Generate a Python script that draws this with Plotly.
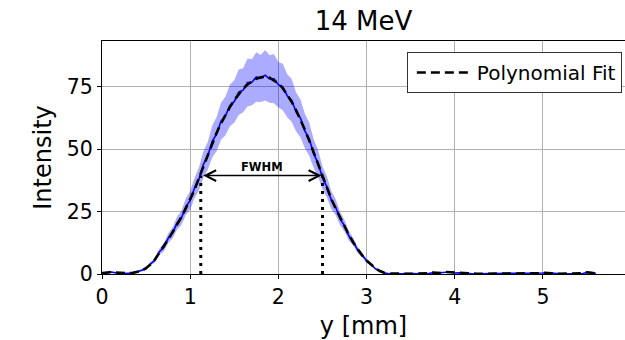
import plotly.graph_objects as go

y_mm = [0.00, 0.05, 0.10, 0.15, 0.20, 0.25, 0.30, 0.35, 0.40, 0.45,
        0.50, 0.55, 0.60, 0.65, 0.70, 0.75, 0.80, 0.85, 0.90, 0.95,
        1.00, 1.05, 1.10, 1.15, 1.20, 1.25, 1.30, 1.35, 1.40, 1.45,
        1.50, 1.55, 1.60, 1.65, 1.70, 1.75, 1.80, 1.85, 1.90, 1.95,
        2.00, 2.05, 2.10, 2.15, 2.20, 2.25, 2.30, 2.35, 2.40, 2.45,
        2.50, 2.55, 2.60, 2.65, 2.70, 2.75, 2.80, 2.85, 2.90, 2.95,
        3.00, 3.05, 3.10, 3.15, 3.20, 3.25, 3.30, 3.35, 3.40, 3.45,
        3.50, 3.55, 3.60, 3.65, 3.70, 3.75, 3.80, 3.85, 3.90, 3.95,
        4.00, 4.05, 4.10, 4.15, 4.20, 4.25, 4.30, 4.35, 4.40, 4.45,
        4.50, 4.55, 4.60, 4.65, 4.70, 4.75, 4.80, 4.85, 4.90, 4.95,
        5.00, 5.05, 5.10, 5.15, 5.20, 5.25, 5.30, 5.35, 5.40, 5.45,
        5.50, 5.55, 5.60]

intensity = [0.3, 0.7, 0.8, 0.5, 0.3, 0.2, 0.3, 0.4, 0.9, 1.5,
             2.1, 4.1, 5.5, 8.9, 10.6, 14.3, 16.4, 20.3, 22.4, 26.9,
             29.5, 34.5, 38.1, 43.9, 47.4, 53.1, 56.1, 61.2, 63.3, 67.5,
             69.1, 72.8, 73.6, 76.7, 76.8, 78.9, 78.3, 79.6, 78.1, 78.2,
             75.8, 74.9, 71.4, 69.6, 65.0, 62.4, 57.3, 54.0, 48.2, 44.3,
             38.5, 34.9, 29.6, 26.7, 22.1, 19.3, 15.2, 12.9, 9.5, 7.7,
             5.2, 3.9, 2.1, 1.3, 0.4, 0.2, 0.1, 0.1, 0.1, 0.2,
             0.1, 0.1, 0.1, 0.1, 0.2, 0.5, 0.4, 0.4, 0.7, 0.8,
             0.4, 0.5, 0.3, 0.2, 0.1, 0.1, 0.1, 0.1, 0.1, 0.1,
             0.1, 0.1, 0.1, 0.1, 0.1, 0.2, 0.4, 0.3, 0.2, 0.2,
             0.4, 0.5, 0.3, 0.1, 0.1, 0.1, 0.1, 0.1, 0.1, 0.2,
             0.6, 0.6, 0.2]

intensity_std = [0.2, 0.3, 0.3, 0.3, 0.2, 0.2, 0.2, 0.3, 0.3, 0.4,
                 0.5, 0.6, 0.9, 1.2, 1.6, 1.9, 2.2, 2.6, 2.8, 3.3,
                 3.7, 4.1, 4.6, 5.3, 5.6, 6.4, 6.8, 7.4, 7.7, 8.3,
                 8.5, 9.1, 8.8, 9.6, 9.2, 9.9, 9.4, 10.1, 9.5, 9.8,
                 9.1, 9.3, 8.6, 8.6, 7.8, 7.6, 6.9, 6.6, 5.8, 5.4,
                 4.6, 4.2, 3.6, 3.2, 2.7, 2.3, 1.9, 1.5, 1.2, 0.9,
                 0.7, 0.5, 0.3, 0.2, 0.1, 0.1, 0.1, 0.1, 0.1, 0.1,
                 0.1, 0.1, 0.1, 0.1, 0.1, 0.2, 0.2, 0.1, 0.2, 0.2,
                 0.1, 0.1, 0.1, 0.1, 0.1, 0.1, 0.1, 0.1, 0.1, 0.1,
                 0.1, 0.1, 0.1, 0.1, 0.1, 0.1, 0.1, 0.1, 0.1, 0.1,
                 0.1, 0.1, 0.1, 0.1, 0.1, 0.1, 0.1, 0.1, 0.1, 0.1,
                 0.2, 0.2, 0.1]

poly_fit = [0.4, 0.6, 0.7, 0.6, 0.4, 0.3, 0.3, 0.5, 0.8, 1.3,
            2.4, 3.8, 5.8, 8.4, 11.0, 13.8, 16.8, 19.6, 22.8, 26.3,
            29.8, 33.8, 38.5, 43.2, 47.9, 52.4, 56.6, 60.4, 63.8, 66.8,
            69.6, 72.0, 74.2, 75.9, 77.2, 78.2, 78.8, 79.0, 78.6, 77.6,
            76.3, 74.4, 71.9, 69.0, 65.6, 61.8, 57.8, 53.4, 48.7, 43.8,
            38.9, 34.3, 30.0, 26.2, 22.5, 18.9, 15.6, 12.5, 9.8, 7.4,
            5.4, 3.7, 2.3, 1.2, 0.5, 0.2, 0.1, 0.1, 0.1, 0.1,
            0.1, 0.1, 0.1, 0.1, 0.3, 0.6, 0.5, 0.4, 0.8, 0.8,
            0.5, 0.5, 0.4, 0.2, 0.1, 0.1, 0.1, 0.1, 0.1, 0.1,
            0.1, 0.1, 0.1, 0.1, 0.1, 0.3, 0.4, 0.3, 0.2, 0.3,
            0.5, 0.5, 0.3, 0.1, 0.1, 0.1, 0.1, 0.1, 0.1, 0.3,
            0.7, 0.6, 0.2]

fwhm_left = 1.12
fwhm_right = 2.50
half_max = 39.4

x_ticks = [0, 1, 2, 3, 4, 5]
y_ticks = [0, 25, 50, 75]

assert len(y_mm) == len(intensity) == len(intensity_std) == len(poly_fit)

upper = [v + s for v, s in zip(intensity, intensity_std)]
lower = [v - s for v, s in zip(intensity, intensity_std)]

FONT = "DejaVu Sans"
fig = go.Figure()
fig.add_trace(go.Scatter(x=y_mm, y=upper, mode="lines", line=dict(width=0),
                         showlegend=False, hoverinfo="skip"))
fig.add_trace(go.Scatter(x=y_mm, y=lower, mode="lines", line=dict(width=0),
                         fill="tonexty", fillcolor="rgba(0,0,255,0.33)",
                         showlegend=False, hoverinfo="skip"))
fig.add_trace(go.Scatter(x=y_mm, y=intensity, mode="lines",
                         line=dict(color="#0000ff", width=1.6), showlegend=False))
fig.add_trace(go.Scatter(x=y_mm, y=poly_fit, mode="lines", name="Polynomial Fit",
                         line=dict(color="black", width=2.6, dash="9px,5px")))
for xv in (fwhm_left, fwhm_right):
    fig.add_trace(go.Scatter(x=[xv, xv], y=[0, half_max], mode="lines",
                             line=dict(color="black", width=3, dash="3px,5px"),
                             showlegend=False, hoverinfo="skip"))

fig.add_annotation(x=fwhm_right - 0.01, y=half_max, ax=fwhm_left + 0.01, ay=half_max,
                   xref="x", yref="y", axref="x", ayref="y", text="",
                   showarrow=True, arrowhead=5, startarrowhead=5, arrowside="end+start",
                   arrowsize=1.4, startarrowsize=1.4, arrowwidth=1.5, arrowcolor="black",
                   standoff=0, startstandoff=0)
fig.add_annotation(x=(fwhm_left + fwhm_right) / 2, y=half_max, xref="x", yref="y",
                   text="<b>FWHM</b>", showarrow=False, yanchor="bottom", yshift=0,
                   font=dict(family=FONT, size=11.5, color="black"))

axis_common = dict(showgrid=True, gridcolor="#b0b0b0", gridwidth=0.8,
                   showline=True, linecolor="black", linewidth=1, mirror=True,
                   ticks="outside", ticklen=4, tickcolor="black", zeroline=False,
                   tickfont=dict(family=FONT, size=20.5, color="black"))

fig.update_layout(
    width=625, height=340,
    margin=dict(l=102, r=0, t=41, b=66, pad=0),
    paper_bgcolor="white", plot_bgcolor="white",
    font=dict(family=FONT, color="black"),
    title=dict(text="14 MeV", x=0.5, xref="paper", y=1 - 21 / 340, yref="container",
               xanchor="center", yanchor="middle",
               font=dict(family=FONT, size=26, color="black")),
    xaxis=dict(range=[0, 5.93], tickvals=x_ticks,
               title=dict(text="y [mm]", font=dict(family=FONT, size=24), standoff=9),
               **axis_common),
    yaxis=dict(range=[0, 93.3], tickvals=y_ticks,
               title=dict(text="Intensity", font=dict(family=FONT, size=24), standoff=8),
               **axis_common),
    legend=dict(x=0.994, y=0.953, xanchor="right", yanchor="top",
                bgcolor="white", bordercolor="#333333", borderwidth=1,
                itemwidth=55, indentation=4,
                font=dict(family=FONT, size=20, color="black")),
)

fig.write_html("out.html")
